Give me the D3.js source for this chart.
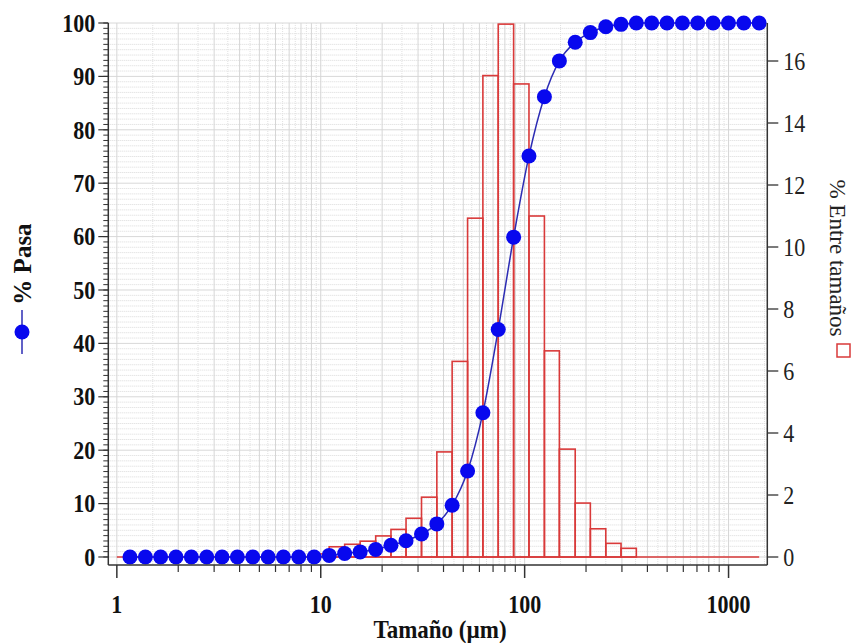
<!DOCTYPE html>
<html><head><meta charset="utf-8">
<script src="https://cdn.jsdelivr.net/npm/d3@7/dist/d3.min.js"></script>
<style>
html,body{margin:0;padding:0;background:#fff;}
svg{display:block;}
</style></head>
<body><svg id="chart" width="854" height="643"></svg>
<script>
// ---- data ----
const sizes = [1.16, 1.38, 1.64, 1.95, 2.32, 2.76, 3.28, 3.90, 4.64, 5.52, 6.56, 7.80, 9.28,
  11.0, 13.1, 15.6, 18.6, 22.1, 26.2, 31.2, 37.1, 44.1, 52.5, 62.4, 74.2, 88.3, 105, 125,
  148, 177, 210, 250, 297, 353, 420, 499, 594, 706, 840, 999, 1188, 1413];
const pasa = [0, 0, 0, 0, 0, 0, 0, 0, 0, 0, 0, 0, 0,
  0.3, 0.65, 0.95, 1.4, 2.2, 3.05, 4.3, 6.2, 9.7, 16.1, 27.0, 42.6, 59.9, 75.1, 86.2,
  92.9, 96.4, 98.2, 99.3, 99.75, 100, 100, 100, 100, 100, 100, 100, 100, 100];
// % between consecutive sizes (bin i spans sizes[i]..sizes[i+1])
const entre = [0, 0, 0, 0, 0, 0, 0, 0, 0, 0, 0, 0, 0.1,
  0.33, 0.41, 0.51, 0.68, 0.89, 1.25, 1.93, 3.39, 6.31, 10.93, 15.53, 17.19, 15.26, 11.0,
  6.65, 3.48, 1.74, 0.91, 0.44, 0.28, 0, 0, 0, 0, 0, 0, 0, 0];
const histStart = 1;
const xTickLabels = [1, 10, 100, 1000];
const leftTicks = [0, 10, 20, 30, 40, 50, 60, 70, 80, 90, 100];
const rightTicks = [0, 2, 4, 6, 8, 10, 12, 14, 16];
const xTitle = "Tamaño (µm)";
const leftTitle = "% Pasa";
const rightTitle = "% Entre tamaños";

// ---- layout ----
const L = 108.3, R = 767.3, T = 23, B = 565;
const SY = 1.13; // vertical stretch of horizontal texts
const svg = d3.select("#chart");
const x = d3.scaleLog().domain([0.908, 1549]).range([L, R]);
const yL = d3.scaleLinear().domain([-1.5, 100]).range([B, T]);
const yR = d3.scaleLinear().domain([-0.258, 17.226]).range([B, T]);
const serif = "'Liberation Serif','Times New Roman',serif";

// minor x values
const xMinor = [];
[1, 10, 100, 1000].forEach(d => { for (let k = 1; k <= 9; k++) { const v = d * k; if (v > 0.908 && v < 1549) xMinor.push(v); } });
const xHalf = [];
[1, 10, 100, 1000].forEach(d => { for (let k = 1; k <= 9; k++) { const v = d * (k + 0.5); if (v < 1549) xHalf.push(v); } });

// ---- grid ----
const grid = svg.append("g");
grid.selectAll(".hg").data(d3.range(0, 101)).join("line")
  .attr("x1", L).attr("x2", R).attr("y1", d => yL(d)).attr("y2", d => yL(d))
  .attr("stroke", d => d % 10 === 0 ? "#d8d8d8" : "#dadada")
  .attr("stroke-dasharray", d => d % 10 === 0 ? null : "1,1").attr("stroke-width", 1);
grid.selectAll(".vh").data(xHalf).join("line")
  .attr("x1", d => x(d)).attr("x2", d => x(d)).attr("y1", T).attr("y2", B)
  .attr("stroke", "#e0e0e0").attr("stroke-dasharray", "1,1");
grid.selectAll(".vg").data(xMinor).join("line")
  .attr("x1", d => x(d)).attr("x2", d => x(d)).attr("y1", T).attr("y2", B)
  .attr("stroke", "#d6d6d6").attr("stroke-width", 1);

// ---- histogram ----
const red = "#d93a3a";
const hist = svg.append("g");
hist.append("line").attr("x1", x(histStart)).attr("x2", x(sizes[sizes.length - 1]))
  .attr("y1", yR(0)).attr("y2", yR(0)).attr("stroke", red).attr("stroke-width", 1.6);
const bins = entre.map((v, i) => ({ x0: sizes[i], x1: sizes[i + 1], v })).filter(d => d.v > 0);
hist.selectAll("rect").data(bins).join("rect")
  .attr("x", d => x(d.x0)).attr("width", d => x(d.x1) - x(d.x0))
  .attr("y", d => yR(d.v)).attr("height", d => yR(0) - yR(d.v))
  .attr("fill", "none").attr("stroke", red).attr("stroke-width", 1.6);

// ---- cumulative line ----
const pts = sizes.map((s, i) => ({ s, p: pasa[i] }));
svg.append("path").datum(pts)
  .attr("d", d3.line().x(d => x(d.s)).y(d => yL(d.p)).curve(d3.curveMonotoneX))
  .attr("fill", "none").attr("stroke", "#2c2cb4").attr("stroke-width", 1.5);
svg.selectAll(".dot").data(pts).join("circle")
  .attr("cx", d => x(d.s)).attr("cy", d => yL(d.p)).attr("r", 7.5).attr("fill", "#0808ee");

// ---- axes ----
const axisColor = "#333";
svg.append("line").attr("x1", L).attr("x2", L).attr("y1", T).attr("y2", B).attr("stroke", axisColor).attr("stroke-width", 1.5);
svg.append("line").attr("x1", L).attr("x2", R).attr("y1", B).attr("y2", B).attr("stroke", axisColor).attr("stroke-width", 1.5);
svg.append("line").attr("x1", R).attr("x2", R).attr("y1", T).attr("y2", B).attr("stroke", axisColor).attr("stroke-width", 1.5);

function stretchText(g, data, fx, fy, anchor, bold, size, fill) {
  return g.selectAll("text").data(data).join("text")
    .attr("transform", d => `translate(${fx(d)},${fy(d)}) scale(1,${SY})`)
    .attr("dy", "0.35em").attr("text-anchor", anchor).attr("font-family", serif)
    .attr("font-weight", bold ? "bold" : "normal").attr("font-size", size).attr("fill", fill)
    .text(d => d);
}

// left ticks
const gl = svg.append("g");
gl.selectAll(".lm").data(d3.range(0, 101)).join("line")
  .attr("x1", L - 5).attr("x2", L).attr("y1", d => yL(d)).attr("y2", d => yL(d))
  .attr("stroke", axisColor).attr("stroke-width", 1);
gl.selectAll(".lM").data(leftTicks).join("line")
  .attr("x1", L - 10).attr("x2", L).attr("y1", d => yL(d)).attr("y2", d => yL(d))
  .attr("stroke", axisColor).attr("stroke-width", 1.2);
stretchText(gl.append("g"), leftTicks, d => L - 13, d => yL(d), "end", true, 22, "#111");

// bottom ticks
const gb = svg.append("g");
gb.selectAll(".bm").data(xMinor).join("line")
  .attr("x1", d => x(d)).attr("x2", d => x(d)).attr("y1", B).attr("y2", d => xTickLabels.includes(d) ? B + 13 : B + 7)
  .attr("stroke", axisColor).attr("stroke-width", d => xTickLabels.includes(d) ? 1.5 : 1.2);
stretchText(gb.append("g"), xTickLabels, d => x(d), d => B + 39, "middle", true, 22, "#111");
stretchText(svg.append("g"), [xTitle], d => 440, d => 629, "middle", true, 23, "#111");

// right ticks
const gr = svg.append("g");
gr.selectAll("line").data(rightTicks).join("line")
  .attr("x1", R).attr("x2", R + 11).attr("y1", d => yR(d)).attr("y2", d => yR(d))
  .attr("stroke", axisColor).attr("stroke-width", 1.3);
stretchText(gr.append("g"), rightTicks, d => R + 16, d => yR(d), "start", false, 22, "#222");

// ---- legend titles ----
const lg = svg.append("g");
lg.append("line").attr("x1", 22).attr("x2", 22).attr("y1", 310).attr("y2", 354).attr("stroke", "#2c2cb4").attr("stroke-width", 1.5);
lg.append("circle").attr("cx", 22).attr("cy", 332).attr("r", 7.5).attr("fill", "#0808ee");
lg.append("text").attr("transform", "translate(22,264) rotate(-90)").attr("dy", "0.35em")
  .attr("text-anchor", "middle").attr("font-family", serif).attr("font-weight", "bold")
  .attr("font-size", 25).attr("fill", "#111").text(leftTitle);
const rg = svg.append("g");
rg.append("text").attr("transform", "translate(838,258) rotate(90)").attr("dy", "0.35em")
  .attr("text-anchor", "middle").attr("font-family", serif)
  .attr("font-size", 23).attr("fill", "#222").text(rightTitle);
rg.append("rect").attr("x", 837).attr("y", 344).attr("width", 13).attr("height", 13)
  .attr("fill", "none").attr("stroke", red).attr("stroke-width", 1.5);
</script>
</body></html>
